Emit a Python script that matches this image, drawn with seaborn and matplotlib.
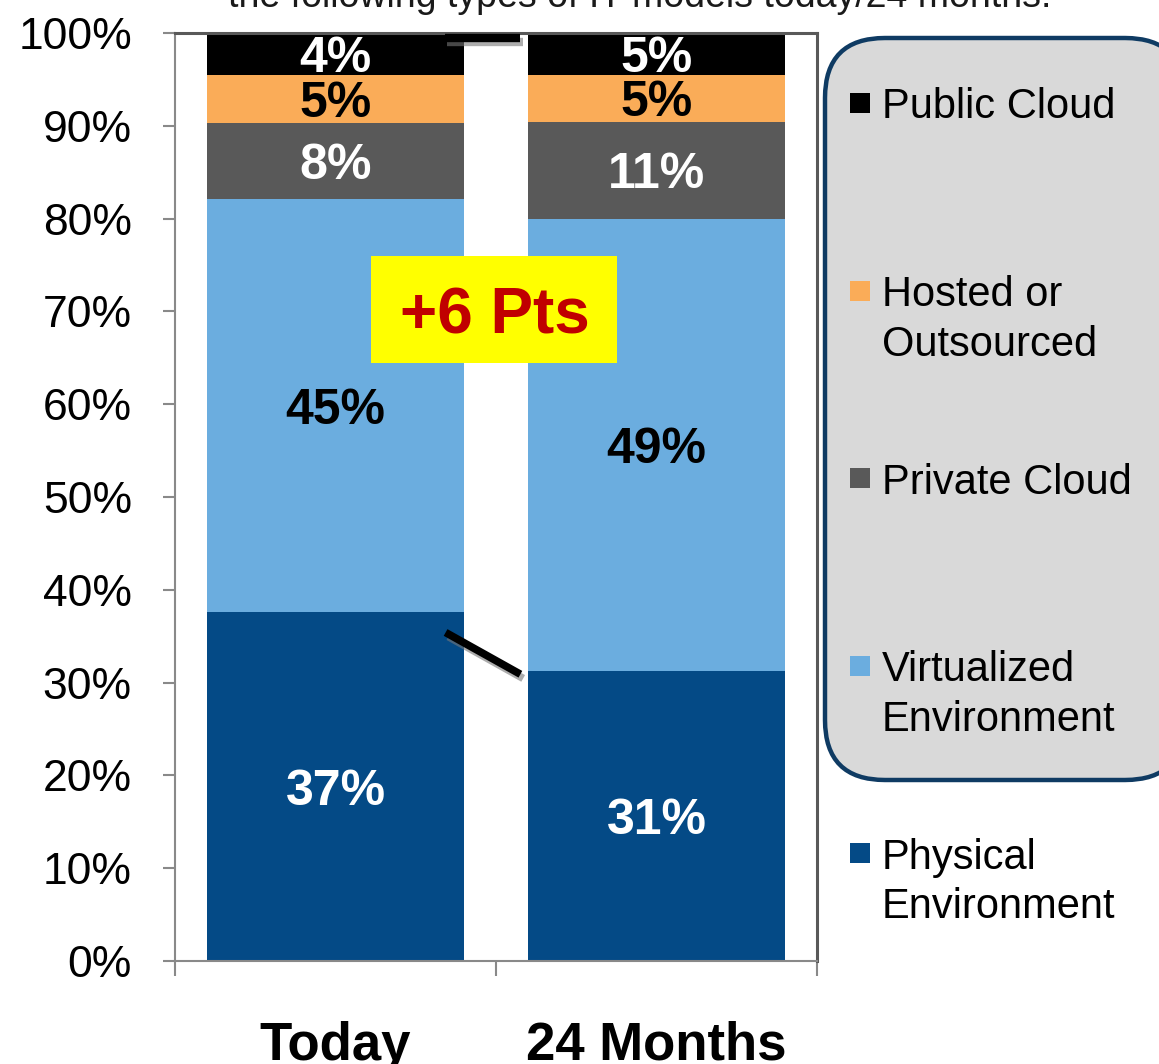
import matplotlib
matplotlib.use("Agg")
import matplotlib.pyplot as plt
import matplotlib.patheffects as pe
from matplotlib.patches import FancyBboxPatch, Rectangle
from matplotlib.transforms import IdentityTransform
from matplotlib.ticker import FixedLocator
import pandas as pd
import seaborn as sns

# --- Data ---
periods = ["Today", "24 Months"]
series = ["Physical Environment", "Virtualized Environment", "Private Cloud",
          "Hosted or Outsourced", "Public Cloud"]
physical = [37.6, 31.3]
virtualized = [44.5, 48.7]
private_cloud = [8.2, 10.4]
hosted = [5.2, 5.1]
public_cloud = [4.5, 4.5]

physical_lbl = ["37%", "31%"]
virtualized_lbl = ["45%", "49%"]
private_lbl = ["8%", "11%"]
hosted_lbl = ["5%", "5%"]
public_lbl = ["4%", "5%"]

legend_labels = ["Public Cloud", "Hosted or\nOutsourced", "Private Cloud",
                 "Virtualized\nEnvironment", "Physical\nEnvironment"]
y_ticks = list(range(0, 101, 10))
y_ticklabels = [f"{t}%" for t in y_ticks]
title_text = "the following types of IT models today/24 months."
callout_text = "+6 Pts"

# --- Style ---
COLORS = {"Physical Environment": "#044A86", "Virtualized Environment": "#6BADDF",
          "Private Cloud": "#595959", "Hosted or Outsourced": "#FAAC58",
          "Public Cloud": "#000000"}
LABEL_COLORS = {"Physical Environment": "white", "Virtualized Environment": "black",
                "Private Cloud": "white", "Hosted or Outsourced": "black",
                "Public Cloud": "white"}
W, H = 1159, 1064
AXIS_GRAY = "#898989"
BORDER_GRAY = "#595959"

sns.set_style("white")
plt.rcParams["font.family"] = ["Liberation Sans", "DejaVu Sans"]
plt.rcParams["text.color"] = "black"
plt.rcParams["xtick.labelcolor"] = "black"
plt.rcParams["ytick.labelcolor"] = "black"

values = [physical, virtualized, private_cloud, hosted, public_cloud]
labels = [physical_lbl, virtualized_lbl, private_lbl, hosted_lbl, public_lbl]
rows = []
for s, vals, lbls in zip(series, values, labels):
    for p, v, l in zip(periods, vals, lbls):
        rows.append({"period": p, "series": s, "share": v, "label": l})
df = pd.DataFrame(rows)
df["series"] = pd.Categorical(df["series"], categories=series, ordered=True)
df["period"] = pd.Categorical(df["period"], categories=periods, ordered=True)
df = df.sort_values(["period", "series"])
df["top"] = df.groupby("period", observed=True)["share"].cumsum()
df["mid"] = df["top"] - df["share"] / 2

fig = plt.figure(figsize=(W / 100, H / 100), dpi=100)
ax = fig.add_axes([175 / W, 1 - 961 / H, (817 - 175) / W, (961 - 33) / H])

# stacked bars: draw cumulative tops, largest first
for s in reversed(series):
    sub = df[df["series"] == s]
    sns.barplot(data=sub, x="period", y="top", order=periods, color=COLORS[s],
                saturation=1, width=0.8, errorbar=None, ax=ax, linewidth=0)

for _, r in df.iterrows():
    ax.text(periods.index(r["period"]), r["mid"], r["label"], ha="center",
            va="center_baseline", fontsize=36, fontweight="bold",
            color=LABEL_COLORS[r["series"]])

ax.set_xlim(-0.5, 1.5)
ax.set_ylim(0, 100)
ax.set_xlabel("")
ax.set_ylabel("")

ax.set_yticks(y_ticks)
ax.set_yticklabels(y_ticklabels, fontsize=32)
ax.tick_params(axis="y", length=9, width=1.5, color=AXIS_GRAY, pad=22, left=True)

ax.set_xticks([0, 1])
ax.set_xticklabels(periods, fontsize=38, fontweight="bold")
ax.tick_params(axis="x", which="major", length=0, pad=43)
ax.xaxis.set_minor_locator(FixedLocator([-0.5, 0.5, 1.5]))
ax.tick_params(axis="x", which="minor", length=11, width=1.5, color=AXIS_GRAY,
               bottom=True)

for side in ["left", "bottom"]:
    ax.spines[side].set_color(AXIS_GRAY)
    ax.spines[side].set_linewidth(1.5)
for side in ["top", "right"]:
    ax.spines[side].set_visible(True)
    ax.spines[side].set_color(BORDER_GRAY)
    ax.spines[side].set_linewidth(2.2)

# connector lines with soft shadow
shadow = [pe.SimpleLineShadow(offset=(2, -3), shadow_color="#777777", alpha=0.6),
          pe.Normal()]
ax.plot([0.34, 0.576], [99.5, 99.5], color="black", lw=6,
        solid_capstyle="butt", path_effects=shadow, clip_on=False, zorder=5)
ax.plot([0.343, 0.576], [35.4, 30.9], color="black", lw=5.5,
        solid_capstyle="butt", path_effects=shadow, zorder=5)

# "+6 Pts" callout
ax.add_patch(Rectangle((0.112, 64.4), 0.766, 11.6, facecolor="#FFFF00",
                       edgecolor="none", zorder=6))
ax.text(0.495, 70.2, callout_text, ha="center", va="center_baseline", fontsize=46,
        fontweight="bold", color="#C00000", zorder=7)

# title (cut off at the top in the source)
fig.text(640 / W, 1 - 7 / H, title_text, ha="center", va="baseline",
         fontsize=27, color="#1a1a1a")

# rounded legend panel
panel = FancyBboxPatch((825, H - 780), 360, 742,
                       boxstyle="round,pad=0,rounding_size=60",
                       facecolor="#D9D9D9", edgecolor="#0F3B63", linewidth=3.2,
                       transform=IdentityTransform())
fig.add_artist(panel)

legend_series = list(reversed(series))
for i, (s, lab) in enumerate(zip(legend_series, legend_labels)):
    yc = 103 + 187.5 * i
    fig.add_artist(Rectangle((850, H - yc - 10), 20, 20, facecolor=COLORS[s],
                             edgecolor="none", transform=IdentityTransform()))
    for j, line in enumerate(lab.split("\n")):
        fig.text(882 / W, 1 - (yc + 50 * j) / H, line, ha="left",
                 va="center_baseline", fontsize=30, color="black")

fig.savefig("out.png", dpi=100)
